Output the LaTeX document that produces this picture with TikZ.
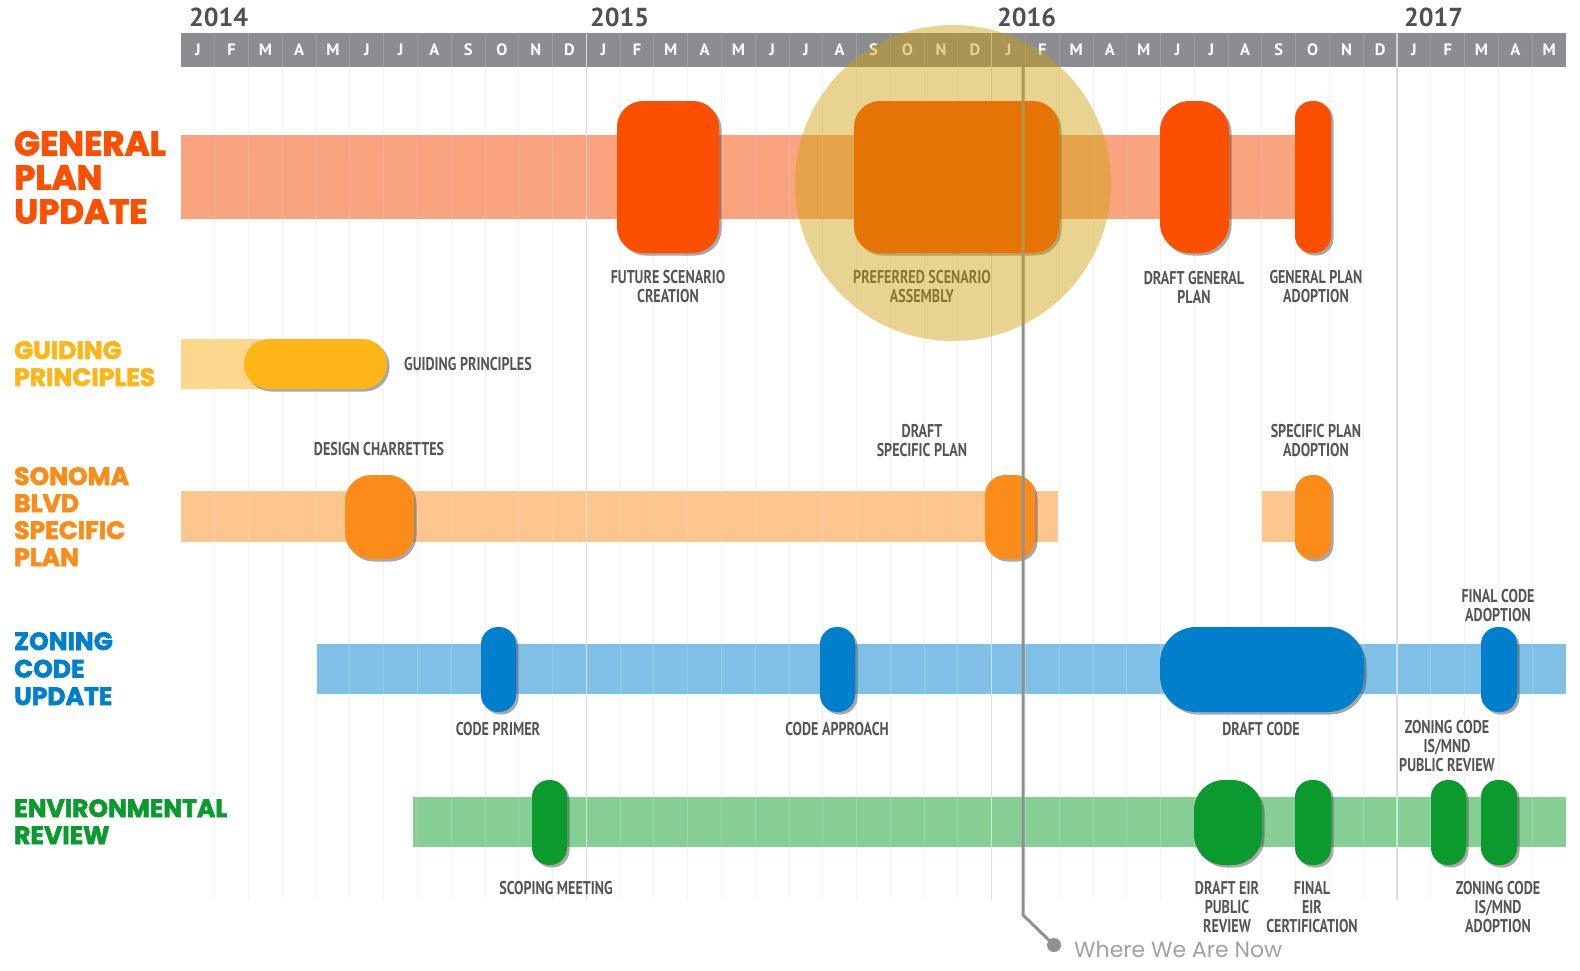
\documentclass[tikz,border=0pt]{standalone}
\usepackage{fontspec}
\usetikzlibrary{shadows}
\newfontfamily\headfont{Poppins}[BoldFeatures={FakeBold=2.5}]
\newfontfamily\condfont{PT Sans}[FakeStretch=0.76]
\newfontfamily\yearfont{PT Sans}
\newfontfamily\nowfont{Poppins}
\definecolor{gpc}{RGB}{252,80,0}
\definecolor{gpb}{RGB}{249,164,127}
\definecolor{guc}{RGB}{253,181,24}
\definecolor{gub}{RGB}{253,214,142}
\definecolor{sbc}{RGB}{251,140,25}
\definecolor{sbb}{RGB}{253,198,143}
\definecolor{zcc}{RGB}{0,128,204}
\definecolor{zcb}{RGB}{128,191,230}
\definecolor{erc}{RGB}{11,154,46}
\definecolor{erb}{RGB}{134,207,148}
\definecolor{hdr}{RGB}{140,140,145}
\definecolor{lblc}{RGB}{85,85,85}
\definecolor{yrc}{RGB}{80,80,80}
\definecolor{nowc}{RGB}{145,145,145}
\definecolor{hlc}{RGB}{204,160,9}
\definecolor{gridc}{RGB}{242,242,245}
\definecolor{yearl}{RGB}{222,222,226}
\begin{document}
\begin{tikzpicture}[x=1pt,y=-1pt,
  ms/.style={draw=none,inner sep=0pt,
    drop shadow={shadow xshift=2.5pt,shadow yshift=-2.5pt,opacity=0.45,fill=black!75}},
  lbl/.style={text=lblc,align=center,inner sep=0pt,font=\condfont\bfseries\fontsize{18.5}{19}\selectfont},
  head/.style={anchor=north west,align=left,inner sep=0pt},
  mon/.style={text=white,inner sep=0pt,font=\yearfont\bfseries\fontsize{16.5}{16}\selectfont},
  yr/.style={text=yrc,anchor=base west,inner sep=0pt,font=\yearfont\bfseries\fontsize{26}{26}\selectfont},
  gridl/.style={draw=gridc,line width=1pt},
  yearline/.style={draw=yearl,line width=1.5pt},
  nowline/.style={draw=nowc,line width=3pt,line join=round},
]
\useasboundingbox (0,0) rectangle (1580,970);
\fill[white] (0,0) rectangle (1580,970);
\def\mw{33.78}
% background grid
\foreach \k in {1,...,40} \draw[gridl] ({181+\k*\mw},67) -- ({181+\k*\mw},900);
\foreach \k in {12,24,36} \draw[yearline] ({181+\k*\mw},67) -- ({181+\k*\mw},900);
% header
\fill[hdr] (181,33) rectangle (1566,67);
\foreach \k in {1,...,40} \draw[white,opacity=0.15,line width=1pt] ({181+\k*\mw},33) -- ({181+\k*\mw},67);
\foreach \k in {12,24,36} \draw[white,opacity=0.6,line width=1.2pt] ({181+\k*\mw},33) -- ({181+\k*\mw},67);
\foreach \l [count=\i from 0] in {J,F,M,A,M,J,J,A,S,O,N,D,J,F,M,A,M,J,J,A,S,O,N,D,J,F,M,A,M,J,J,A,S,O,N,D,J,F,M,A,M}
  \node[mon] (m\i) at ({181+(\i+0.5)*\mw},50) {\l};
\node[yr] (y14) at (189,26) {2014};
\node[yr] (y15) at (590,26) {2015};
\node[yr] (y16) at (997,26) {2016};
\node[yr] (y17) at (1404,26) {2017};
% left headings
\node[head,text=gpc,font=\headfont\bfseries\fontsize{34}{34}\selectfont] (hGP) at (14,131) {GENERAL\\PLAN\\UPDATE};
\node[head,text=guc,font=\headfont\bfseries\fontsize{25}{27}\selectfont] (hGU) at (14,341) {GUIDING\\PRINCIPLES};
\node[head,text=sbc,font=\headfont\bfseries\fontsize{25}{27}\selectfont] (hSB) at (14,467) {SONOMA\\BLVD\\SPECIFIC\\PLAN};
\node[head,text=zcc,font=\headfont\bfseries\fontsize{25}{27.5}\selectfont] (hZC) at (14,632) {ZONING\\CODE\\UPDATE};
\node[head,text=erc,font=\headfont\bfseries\fontsize{25}{27}\selectfont] (hER) at (14,799) {ENVIRONMENTAL\\REVIEW};
% bars
\fill[gpb] (181,135) rectangle (1305,219);
\fill[gub] (181,339) rectangle (260,389);
\fill[sbb] (181,491) rectangle (1058,542);
\fill[sbb] (1262,491) rectangle (1305,542);
\fill[zcb] (317,644) rectangle (1566,694);
\fill[erb] (413,797) rectangle (1566,847);
\begin{scope}
\clip (181,135) rectangle (1305,219) (181,339) rectangle (260,389)
      (181,491) rectangle (1058,542) (1262,491) rectangle (1305,542)
      (317,644) rectangle (1566,694) (413,797) rectangle (1566,847);
\foreach \k in {1,...,40} \draw[white,opacity=0.18,line width=1pt] ({181+\k*\mw},100) -- ({181+\k*\mw},900);
\foreach \k in {12,24,36} \draw[white,opacity=0.5,line width=1.5pt] ({181+\k*\mw},100) -- ({181+\k*\mw},900);
\end{scope}
% milestones: general plan
\node[ms,fill=gpc,minimum width=102pt,minimum height=152pt,rounded corners=26pt] (fsc) at (668,177) {};
\node[ms,fill=gpc,minimum width=205pt,minimum height=152pt,rounded corners=26pt] (psa) at (956.5,177) {};
\node[ms,fill=gpc,minimum width=69pt,minimum height=152pt,rounded corners=30pt] (dgp) at (1194.5,177) {};
\node[ms,fill=gpc,minimum width=36pt,minimum height=152pt,rounded corners=17pt] (gpa) at (1313,177) {};
% guiding principles
\node[ms,fill=guc,minimum width=143pt,minimum height=50pt,rounded corners=24.5pt] (gup) at (315.5,364) {};
% sonoma blvd
\node[ms,fill=sbc,minimum width=69pt,minimum height=84pt,rounded corners=26pt] (dch) at (379.5,517) {};
\node[ms,fill=sbc,minimum width=50pt,minimum height=84pt,rounded corners=20pt] (dsp) at (1010,517) {};
\node[ms,fill=sbc,minimum width=36pt,minimum height=84pt,rounded corners=17pt] (spa) at (1313,517) {};
% zoning code
\node[ms,fill=zcc,minimum width=35pt,minimum height=85pt,rounded corners=17pt] (cpr) at (498.5,669.5) {};
\node[ms,fill=zcc,minimum width=35pt,minimum height=85pt,rounded corners=17pt] (cap) at (837.5,669.5) {};
\node[ms,fill=zcc,minimum width=204pt,minimum height=85pt,rounded corners=36pt] (dco) at (1262,669.5) {};
\node[ms,fill=zcc,minimum width=36pt,minimum height=85pt,rounded corners=17pt] (fca) at (1499,669.5) {};
% environmental review
\node[ms,fill=erc,minimum width=35pt,minimum height=85pt,rounded corners=17pt] (scm) at (549.5,822.5) {};
\node[ms,fill=erc,minimum width=68pt,minimum height=85pt,rounded corners=30pt] (der) at (1228,822.5) {};
\node[ms,fill=erc,minimum width=36pt,minimum height=85pt,rounded corners=17pt] (fec) at (1313,822.5) {};
\node[ms,fill=erc,minimum width=35pt,minimum height=85pt,rounded corners=17pt] (zpr) at (1448.5,822.5) {};
\node[ms,fill=erc,minimum width=36pt,minimum height=85pt,rounded corners=17pt] (zad) at (1499,822.5) {};
% labels
\node[lbl] (fscL) at (668,286.5) {FUTURE SCENARIO\\CREATION};
\node[lbl] (psaL) at (922,286.5) {PREFERRED SCENARIO\\ASSEMBLY};
\node[lbl] (dgpL) at (1194,287) {DRAFT GENERAL\\PLAN};
\node[lbl] (gpaL) at (1316,287) {GENERAL PLAN\\ADOPTION};
\node[lbl,anchor=west] (gupL) at (404,364) {GUIDING PRINCIPLES};
\node[lbl] (dchL) at (379,449) {DESIGN CHARRETTES};
\node[lbl] (dspL) at (922,440.5) {DRAFT\\SPECIFIC PLAN};
\node[lbl] (spaL) at (1316,440.5) {SPECIFIC PLAN\\ADOPTION};
\node[lbl] (cprL) at (498,729) {CODE PRIMER};
\node[lbl] (capL) at (837,729) {CODE APPROACH};
\node[lbl] (dcoL) at (1261,729) {DRAFT CODE};
\node[lbl] (fcaL) at (1498,605.5) {FINAL CODE\\ADOPTION};
\node[lbl] (zprL) at (1447,746) {ZONING CODE\\IS/MND\\PUBLIC REVIEW};
\node[lbl] (scmL) at (556,888) {SCOPING MEETING};
\node[lbl] (derL) at (1227,907) {DRAFT EIR\\PUBLIC\\REVIEW};
\node[lbl] (fecL) at (1312,907) {FINAL\\EIR\\CERTIFICATION};
\node[lbl] (zadL) at (1498,907) {ZONING CODE\\IS/MND\\ADOPTION};
% where we are now
\coordinate (nowtop) at (1023,67);
\coordinate (nowbend) at (1023,915);
\node[circle,fill=nowc,minimum size=14pt,inner sep=0pt] (nowdot) at (1054,945) {};
\node[anchor=west,inner sep=0pt,text=nowc!85,font=\nowfont\fontsize{22}{22}\selectfont] (nowL) at (1074,949) {Where We Are Now};
\draw[nowline] (nowtop) -- (nowbend) -- (nowdot.center);
% highlight circle
\node[circle,fill=hlc,fill opacity=0.45,minimum size=316pt,inner sep=0pt] (hl) at (953,183) {};
\end{tikzpicture}
\end{document}
